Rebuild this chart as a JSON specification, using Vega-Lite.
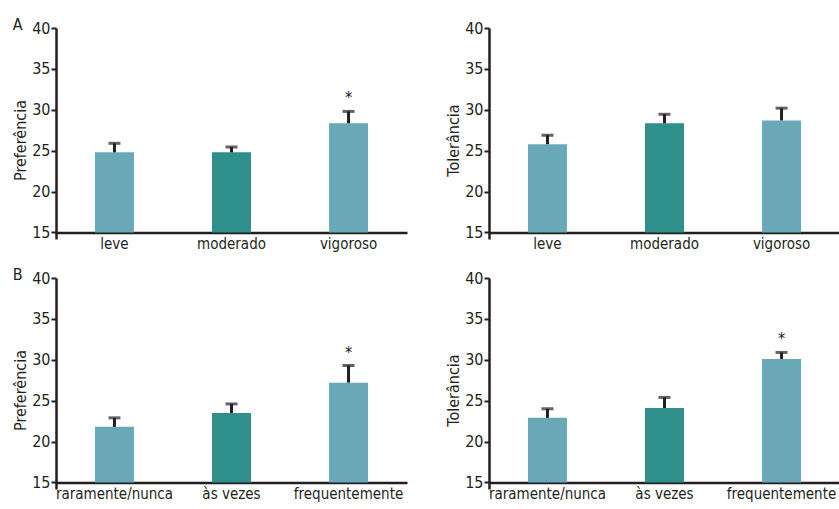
{
  "$schema": "https://vega.github.io/schema/vega-lite/v6.json",
  "background": "white",
  "padding": {"left": 12, "top": 17, "right": 0, "bottom": 0},
  "data": {"values": [
    {"panel": "A-Pref", "category": "leve", "mean": 24.8, "upper": 25.9, "sig": ""},
    {"panel": "A-Pref", "category": "moderado", "mean": 24.8, "upper": 25.45, "sig": ""},
    {"panel": "A-Pref", "category": "vigoroso", "mean": 28.35, "upper": 29.8, "sig": "*"},
    {"panel": "A-Tol", "category": "leve", "mean": 25.8, "upper": 26.9, "sig": ""},
    {"panel": "A-Tol", "category": "moderado", "mean": 28.35, "upper": 29.45, "sig": ""},
    {"panel": "A-Tol", "category": "vigoroso", "mean": 28.7, "upper": 30.2, "sig": ""},
    {"panel": "B-Pref", "category": "raramente/nunca", "mean": 21.8, "upper": 22.9, "sig": ""},
    {"panel": "B-Pref", "category": "às vezes", "mean": 23.5, "upper": 24.6, "sig": ""},
    {"panel": "B-Pref", "category": "frequentemente", "mean": 27.2, "upper": 29.3, "sig": "*"},
    {"panel": "B-Tol", "category": "raramente/nunca", "mean": 22.9, "upper": 24.0, "sig": ""},
    {"panel": "B-Tol", "category": "às vezes", "mean": 24.1, "upper": 25.4, "sig": ""},
    {"panel": "B-Tol", "category": "frequentemente", "mean": 30.1, "upper": 30.9, "sig": "*"}
  ]},
  "columns": 2,
  "spacing": {"column": 38, "row": 15},
  "concat": [
    {
      "width": 351, "height": 211,
      "title": {"text": "A", "anchor": "start", "frame": "bounds", "offset": 0, "dy": 13, "fontSize": 16, "fontWeight": "normal", "font": "DejaVu Sans Condensed, sans-serif", "color": "#231f20"},
      "transform": [{"filter": "datum.panel === 'A-Pref'"}],
      "encoding": {"x": {"field": "category", "type": "nominal", "sort": null, "title": null, "scale": {"paddingInner": 0.667, "paddingOuter": 0.333}}},
      "layer": [
        {"mark": {"type": "bar"}, "encoding": {
          "y": {"field": "mean", "type": "quantitative", "title": "Preferência", "scale": {"domain": [14.2, 40], "nice": false, "zero": false}},
          "y2": {"datum": 15},
          "color": {"field": "category", "type": "nominal", "legend": null, "scale": {"domain": ["leve", "moderado", "vigoroso", "raramente/nunca", "às vezes", "frequentemente"], "range": ["#69a8b7", "#2f8f8a", "#69a8b7", "#69a8b7", "#2f8f8a", "#69a8b7"]}}}},
        {"mark": {"type": "rule", "strokeWidth": 3, "color": "#231f20"}, "encoding": {
          "y": {"field": "mean", "type": "quantitative", "title": "Preferência", "scale": {"domain": [14.2, 40], "nice": false, "zero": false}},
          "y2": {"field": "upper"}}},
        {"mark": {"type": "tick", "thickness": 3, "size": 12, "color": "#231f20"}, "encoding": {
          "y": {"field": "upper", "type": "quantitative", "title": "Preferência", "scale": {"domain": [14.2, 40], "nice": false, "zero": false}}}},
        {"mark": {"type": "text", "dy": -13, "baseline": "middle", "fontSize": 16, "font": "DejaVu Sans Condensed, sans-serif", "color": "#231f20"}, "encoding": {
          "y": {"field": "upper", "type": "quantitative", "title": "Preferência", "scale": {"domain": [14.2, 40], "nice": false, "zero": false}},
          "text": {"field": "sig"}}}
      ]
    },
    {
      "width": 351, "height": 211,
      "transform": [{"filter": "datum.panel === 'A-Tol'"}],
      "encoding": {"x": {"field": "category", "type": "nominal", "sort": null, "title": null, "scale": {"paddingInner": 0.667, "paddingOuter": 0.333}}},
      "layer": [
        {"mark": {"type": "bar"}, "encoding": {
          "y": {"field": "mean", "type": "quantitative", "title": "Tolerância", "scale": {"domain": [14.2, 40], "nice": false, "zero": false}},
          "y2": {"datum": 15},
          "color": {"field": "category", "type": "nominal", "legend": null, "scale": {"domain": ["leve", "moderado", "vigoroso", "raramente/nunca", "às vezes", "frequentemente"], "range": ["#69a8b7", "#2f8f8a", "#69a8b7", "#69a8b7", "#2f8f8a", "#69a8b7"]}}}},
        {"mark": {"type": "rule", "strokeWidth": 3, "color": "#231f20"}, "encoding": {
          "y": {"field": "mean", "type": "quantitative", "title": "Tolerância", "scale": {"domain": [14.2, 40], "nice": false, "zero": false}},
          "y2": {"field": "upper"}}},
        {"mark": {"type": "tick", "thickness": 3, "size": 12, "color": "#231f20"}, "encoding": {
          "y": {"field": "upper", "type": "quantitative", "title": "Tolerância", "scale": {"domain": [14.2, 40], "nice": false, "zero": false}}}},
        {"mark": {"type": "text", "dy": -13, "baseline": "middle", "fontSize": 16, "font": "DejaVu Sans Condensed, sans-serif", "color": "#231f20"}, "encoding": {
          "y": {"field": "upper", "type": "quantitative", "title": "Tolerância", "scale": {"domain": [14.2, 40], "nice": false, "zero": false}},
          "text": {"field": "sig"}}}
      ]
    },
    {
      "width": 351, "height": 211,
      "title": {"text": "B", "anchor": "start", "frame": "bounds", "offset": 0, "dy": 13, "fontSize": 16, "fontWeight": "normal", "font": "DejaVu Sans Condensed, sans-serif", "color": "#231f20"},
      "transform": [{"filter": "datum.panel === 'B-Pref'"}],
      "encoding": {"x": {"field": "category", "type": "nominal", "sort": null, "title": null, "scale": {"paddingInner": 0.667, "paddingOuter": 0.333}}},
      "layer": [
        {"mark": {"type": "bar"}, "encoding": {
          "y": {"field": "mean", "type": "quantitative", "title": "Preferência", "scale": {"domain": [14.2, 40], "nice": false, "zero": false}},
          "y2": {"datum": 15},
          "color": {"field": "category", "type": "nominal", "legend": null, "scale": {"domain": ["leve", "moderado", "vigoroso", "raramente/nunca", "às vezes", "frequentemente"], "range": ["#69a8b7", "#2f8f8a", "#69a8b7", "#69a8b7", "#2f8f8a", "#69a8b7"]}}}},
        {"mark": {"type": "rule", "strokeWidth": 3, "color": "#231f20"}, "encoding": {
          "y": {"field": "mean", "type": "quantitative", "title": "Preferência", "scale": {"domain": [14.2, 40], "nice": false, "zero": false}},
          "y2": {"field": "upper"}}},
        {"mark": {"type": "tick", "thickness": 3, "size": 12, "color": "#231f20"}, "encoding": {
          "y": {"field": "upper", "type": "quantitative", "title": "Preferência", "scale": {"domain": [14.2, 40], "nice": false, "zero": false}}}},
        {"mark": {"type": "text", "dy": -13, "baseline": "middle", "fontSize": 16, "font": "DejaVu Sans Condensed, sans-serif", "color": "#231f20"}, "encoding": {
          "y": {"field": "upper", "type": "quantitative", "title": "Preferência", "scale": {"domain": [14.2, 40], "nice": false, "zero": false}},
          "text": {"field": "sig"}}}
      ]
    },
    {
      "width": 351, "height": 211,
      "transform": [{"filter": "datum.panel === 'B-Tol'"}],
      "encoding": {"x": {"field": "category", "type": "nominal", "sort": null, "title": null, "scale": {"paddingInner": 0.667, "paddingOuter": 0.333}}},
      "layer": [
        {"mark": {"type": "bar"}, "encoding": {
          "y": {"field": "mean", "type": "quantitative", "title": "Tolerância", "scale": {"domain": [14.2, 40], "nice": false, "zero": false}},
          "y2": {"datum": 15},
          "color": {"field": "category", "type": "nominal", "legend": null, "scale": {"domain": ["leve", "moderado", "vigoroso", "raramente/nunca", "às vezes", "frequentemente"], "range": ["#69a8b7", "#2f8f8a", "#69a8b7", "#69a8b7", "#2f8f8a", "#69a8b7"]}}}},
        {"mark": {"type": "rule", "strokeWidth": 3, "color": "#231f20"}, "encoding": {
          "y": {"field": "mean", "type": "quantitative", "title": "Tolerância", "scale": {"domain": [14.2, 40], "nice": false, "zero": false}},
          "y2": {"field": "upper"}}},
        {"mark": {"type": "tick", "thickness": 3, "size": 12, "color": "#231f20"}, "encoding": {
          "y": {"field": "upper", "type": "quantitative", "title": "Tolerância", "scale": {"domain": [14.2, 40], "nice": false, "zero": false}}}},
        {"mark": {"type": "text", "dy": -13, "baseline": "middle", "fontSize": 16, "font": "DejaVu Sans Condensed, sans-serif", "color": "#231f20"}, "encoding": {
          "y": {"field": "upper", "type": "quantitative", "title": "Tolerância", "scale": {"domain": [14.2, 40], "nice": false, "zero": false}},
          "text": {"field": "sig"}}}
      ]
    }
  ],
  "resolve": {"scale": {"x": "independent", "y": "independent"}},
  "config": {
    "view": {"stroke": null},
    "axis": {"domainColor": "#231f20", "domainWidth": 2.5, "tickColor": "#231f20", "tickWidth": 2, "tickSize": 5, "grid": false,
      "labelFont": "DejaVu Sans Condensed, sans-serif", "labelFontSize": 16, "labelColor": "#231f20",
      "titleFont": "DejaVu Sans Condensed, sans-serif", "titleFontSize": 16, "titleFontWeight": "normal", "titleColor": "#231f20"},
    "axisX": {"ticks": false, "labelAngle": 0, "offset": -6.5, "labelPadding": 4, "labelFontSize": 15},
    "axisY": {"values": [15, 20, 25, 30, 35, 40], "labelPadding": 1, "titlePadding": 3, "titleY": 112}
  }
}
